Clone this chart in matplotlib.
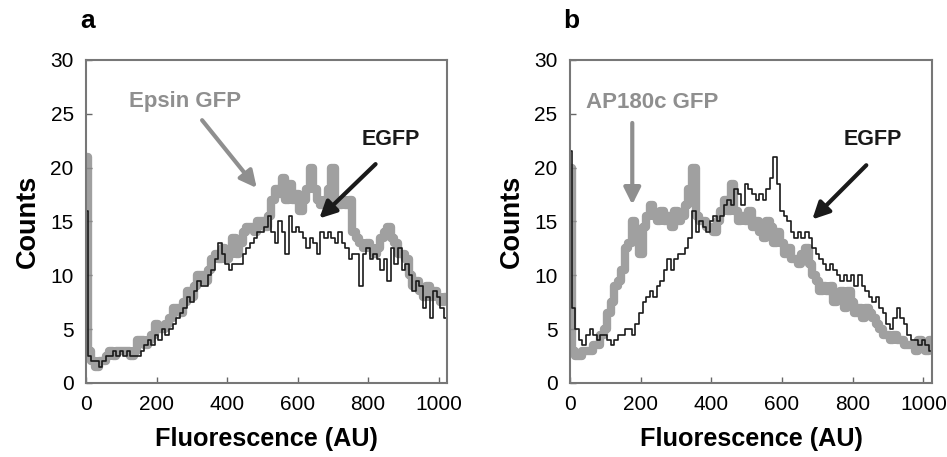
import matplotlib.pyplot as plt
import numpy as np

plt.rcParams['font.family'] = ['Liberation Sans', 'DejaVu Sans']

# fluorescence bins (AU), 10 AU wide
fluor = np.arange(0, 1030, 10)

# panel a
epsin_gfp = [21, 3, 2, 1.5, 2, 2, 2.5, 3, 2.5, 3,
             3, 3, 3, 2.5, 3, 4, 4, 3.5, 4, 4.5,
             5.5, 5, 5, 5.5, 6, 7, 7, 6.5, 7.5, 8.5,
             8, 9, 10, 10, 9.5, 10.5, 11.5, 12, 11.5, 12.5,
             11.5, 12, 13.5, 12, 13, 14, 14.5, 14.5, 14, 15,
             15, 14.5, 15.5, 17, 18, 17.5, 19, 17, 18.5, 17,
             17.5, 16, 17, 18, 20, 18, 17, 16.5, 17, 18,
             20, 17, 16.5, 17, 16.5, 17, 14, 13.5, 13, 12.5,
             13, 12.5, 12, 12.5, 13.5, 14, 14.5, 13.5, 13, 12,
             12, 11.5, 10, 9, 9.5, 8.5, 8, 9, 8, 8.5,
             8, 7.5, 8]
egfp_a = [16, 2.5, 2, 2, 1.5, 2, 2.5, 2.5, 3, 2.5,
          3, 2.5, 3, 2.5, 2.5, 2.5, 3, 3.5, 4, 3.5,
          4.5, 4, 5, 4.5, 5, 5.5, 6, 6.5, 7, 8,
          7.5, 8.5, 9.5, 9, 9, 10, 10.5, 11.5, 13, 12,
          11, 10.5, 11, 11, 11, 12, 12.5, 13, 13.5, 14,
          14, 14.5, 15.5, 14, 13, 15, 14, 12, 15.5, 14,
          14.5, 14, 13.5, 12.5, 13.5, 13, 12, 14, 13.5, 14,
          13.5, 13, 14, 13, 12.5, 11.5, 12, 12, 9, 12,
          12.5, 11.5, 12, 11.5, 10.5, 11.5, 9.5, 12.5, 11, 12.5,
          10.5, 11, 10, 8.5, 9.5, 9, 7, 8, 6, 8.5,
          8, 7, 6]

# panel b
ap180c_gfp = [20, 3, 2.5, 2.5, 3, 3, 3, 3.5, 3.5, 4.5,
              5, 6.5, 7.5, 9, 9.5, 10.5, 12.5, 13, 15, 13.5,
              12, 14.5, 15.5, 16.5, 15.5, 15, 16, 15, 15.5, 14.5,
              16, 15, 15.5, 16.5, 18, 20, 15.5, 15, 15, 14.5,
              14.5, 14, 15, 16, 17, 16, 18.5, 16, 15, 15.5,
              15, 16, 14.5, 15, 14, 13.5, 15, 14.5, 13, 14,
              13, 12, 12.5, 11.5, 11.5, 11, 12, 12.5, 11, 10,
              9.5, 8.5, 9, 8.5, 9, 7.5, 8, 8.5, 7, 8.5,
              7.5, 6.5, 7, 6, 7, 6.5, 6, 5.5, 5, 4.5,
              4.5, 4, 4.5, 4, 4, 3.5, 3.5, 3.5, 3, 4,
              3.5, 3, 4]
egfp_b = [21.5, 7, 5, 4, 3.5, 4.5, 5, 4.5, 4, 4.5,
          4.5, 4, 3.5, 4, 4.5, 4.5, 5, 5, 4.5, 5.5,
          6.5, 7.5, 8, 8.5, 8, 9, 9.5, 10.5, 11.5, 10.5,
          11.5, 12, 12, 12.5, 13.5, 16, 14, 15, 14.5, 14,
          15, 15.5, 15, 15.5, 16.5, 17, 16.5, 18, 17.5, 16.5,
          18.5, 18, 17.5, 17, 17.5, 17, 18, 19, 21, 18.5,
          16, 15.5, 15, 14, 13.5, 14, 13.5, 14, 13.5, 12.5,
          12, 11.5, 11, 10.5, 11, 10.5, 10, 9.5, 10, 9.5,
          10, 9, 10, 9, 8.5, 8, 7.5, 8, 7, 6.5,
          5.5, 5, 6, 7, 6, 5.5, 4.5, 4, 4, 3.5,
          4, 3.5, 3]

fig = plt.figure(figsize=(9.47, 4.57), dpi=100)
ax_a = fig.add_axes([0.091, 0.162, 0.381, 0.707])
ax_b = fig.add_axes([0.602, 0.162, 0.382, 0.707])

gray = '#8f8f8f'
dark = '#1a1a1a'
panels = [
    (ax_a, epsin_gfp, egfp_a, 'Epsin GFP', (281, 26.1), (324, 24.6), (489, 17.9),
     (864, 22.6), (827, 20.5), (656, 15.1)),
    (ax_b, ap180c_gfp, egfp_b, 'AP180c GFP', (232, 26.0), (176, 24.4), (176, 16.3),
     (858, 22.6), (844, 20.4), (680, 15.0)),
]

for ax, gfp, egfp, name, txt, a0, a1, etxt, e0, e1 in panels:
    ax.step(fluor, gfp, where='mid', color=gray, lw=6, alpha=0.85)
    ax.step(fluor, egfp, where='mid', color=dark, lw=1.2)

    ax.set_xlim(0, 1024)
    ax.set_ylim(0, 30)
    ax.set_xticks([0, 200, 400, 600, 800, 1000])
    ax.set_yticks([0, 5, 10, 15, 20, 25, 30])
    ax.tick_params(direction='in', length=4, width=1, color='#666666',
                   labelsize=15, pad=9)
    for s in ax.spines.values():
        s.set_color('#777777')
        s.set_linewidth(1.5)
    ax.set_xlabel('Fluorescence (AU)', fontsize=18.2, fontweight='bold', labelpad=9)
    ax.set_ylabel('Counts', fontsize=19.5, fontweight='bold', labelpad=7)

    ax.text(txt[0], txt[1], name, color=gray, fontsize=16, fontweight='bold',
            ha='center', va='center')
    ax.annotate('', xy=a1, xytext=a0,
                arrowprops=dict(arrowstyle='-|>,head_length=1.0,head_width=0.5',
                                color=gray, lw=3))
    ax.text(etxt[0], etxt[1], 'EGFP', color=dark, fontsize=15.5,
            fontweight='bold', ha='center', va='center')
    ax.annotate('', xy=e1, xytext=e0,
                arrowprops=dict(arrowstyle='-|>,head_length=1.0,head_width=0.5',
                                color=dark, lw=3))

fig.text(0.085, 0.955, 'a', fontsize=19, fontweight='bold', va='center')
fig.text(0.595, 0.955, 'b', fontsize=19, fontweight='bold', va='center')

fig.savefig('out.png', dpi=100)
